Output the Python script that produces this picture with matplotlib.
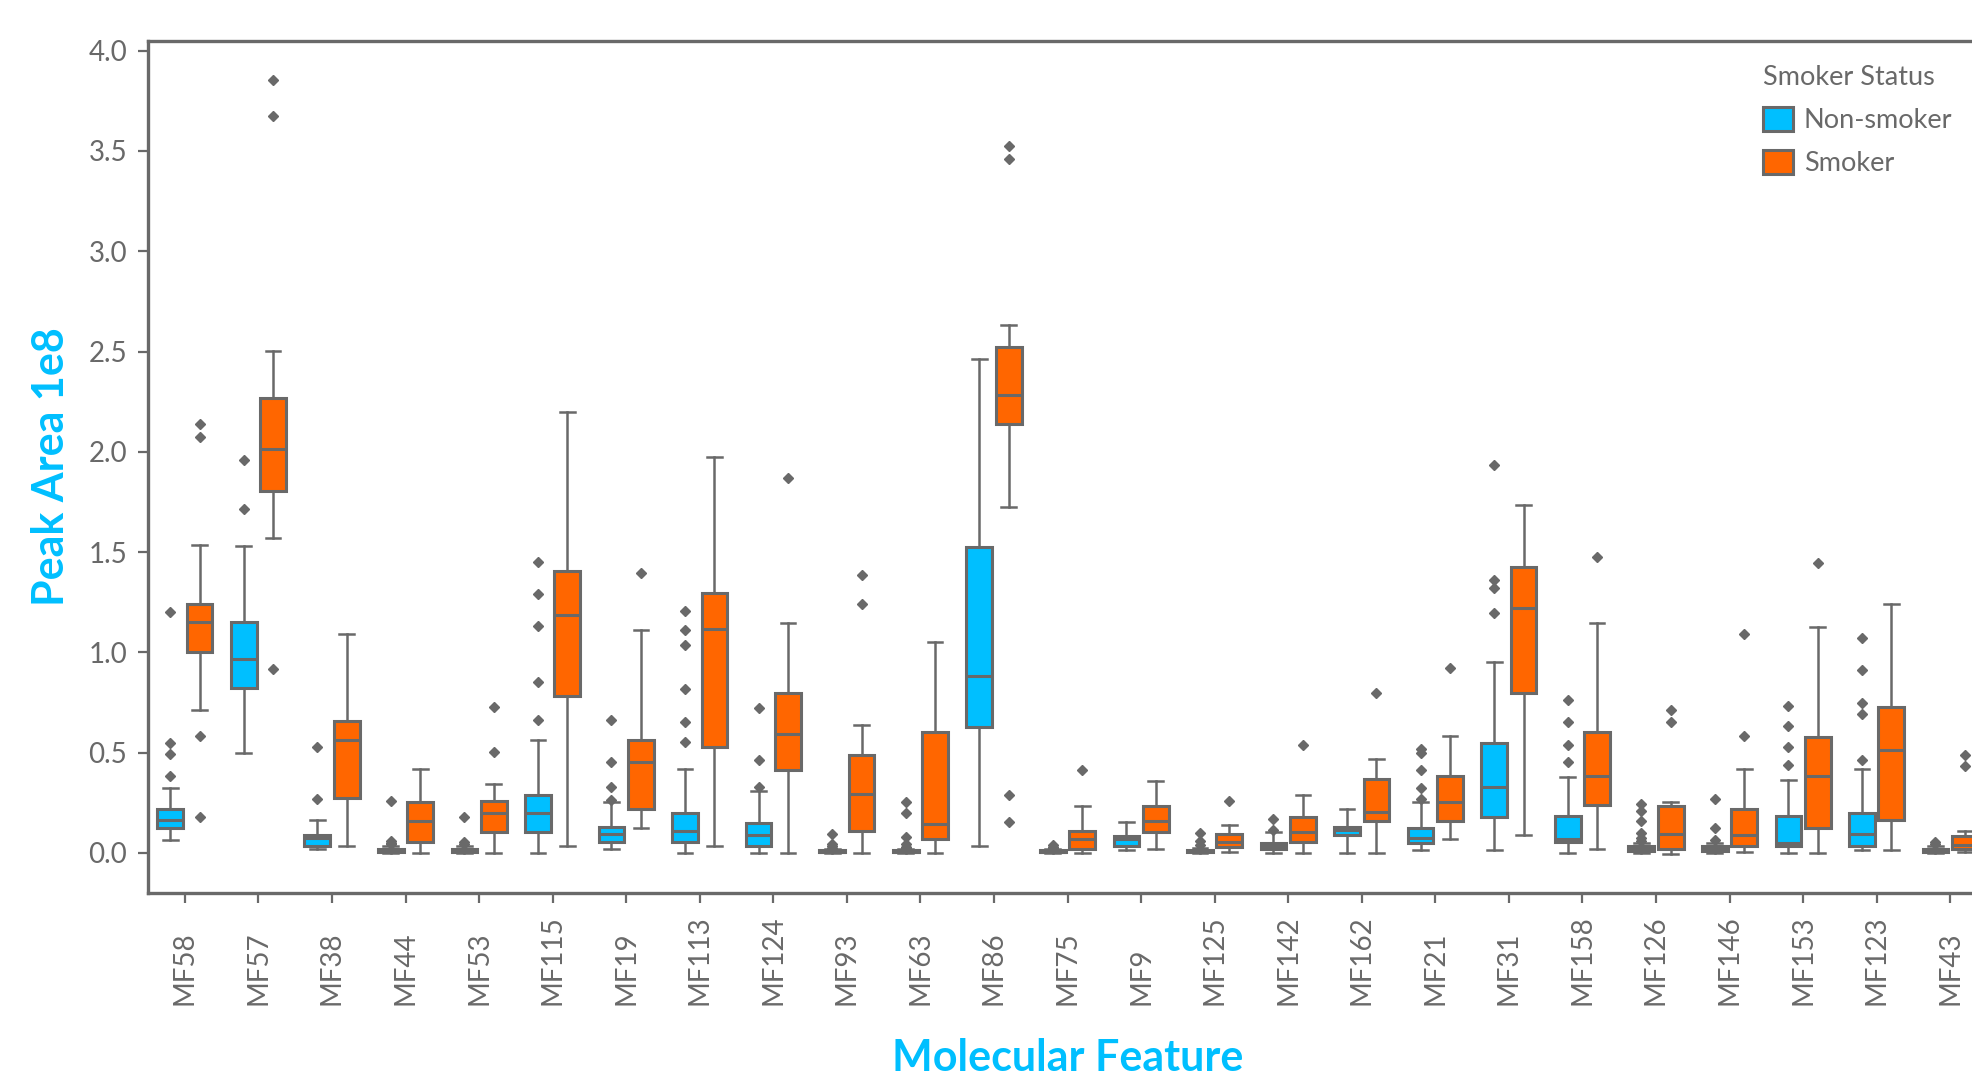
import numpy as np
import matplotlib
matplotlib.use("Agg")
import matplotlib.pyplot as plt
from matplotlib.patches import Patch

plt.rcParams['font.family'] = ['Lato', 'DejaVu Sans']

features = ['MF58', 'MF57', 'MF38', 'MF44', 'MF53', 'MF115', 'MF19', 'MF113',
            'MF124', 'MF93', 'MF63', 'MF86', 'MF75', 'MF9', 'MF125', 'MF142',
            'MF162', 'MF21', 'MF31', 'MF158', 'MF126', 'MF146', 'MF153',
            'MF123', 'MF43']

# Non-smoker box stats (peak area, 1e8)
ns_low = [0.066, 0.497, 0.017, 0.0, 0.0, 0.0, 0.017, 0.0, 0.0, 0.0, 0.0, 0.035, 0.0,
          0.012, 0.0, 0.0, 0.0, 0.015, 0.015, 0.0, 0.0, 0.0, 0.0, 0.015, 0.0]
ns_q1 = [0.126, 0.821, 0.035, 0.002, 0.003, 0.105, 0.056, 0.055, 0.035, 0.002, 0.002, 0.628, 0.002,
         0.032, 0.003, 0.017, 0.088, 0.050, 0.181, 0.053, 0.007, 0.007, 0.033, 0.033, 0.002]
ns_med = [0.163, 0.967, 0.076, 0.008, 0.010, 0.201, 0.093, 0.110, 0.091, 0.006, 0.006, 0.882, 0.006,
          0.070, 0.008, 0.035, 0.115, 0.076, 0.326, 0.070, 0.018, 0.018, 0.048, 0.095, 0.010]
ns_q3 = [0.218, 1.150, 0.091, 0.018, 0.020, 0.289, 0.130, 0.201, 0.150, 0.012, 0.012, 1.527, 0.012,
         0.085, 0.015, 0.051, 0.130, 0.126, 0.547, 0.184, 0.032, 0.032, 0.184, 0.201, 0.020]
ns_high = [0.324, 1.530, 0.163, 0.035, 0.035, 0.565, 0.256, 0.417, 0.309, 0.020, 0.020, 2.464, 0.018,
           0.153, 0.025, 0.106, 0.218, 0.252, 0.950, 0.379, 0.048, 0.048, 0.364, 0.417, 0.032]
ns_fliers = [[1.203, 0.547, 0.493, 0.384], [1.958, 1.714], [0.530, 0.271],
             [0.261, 0.060, 0.050, 0.045], [0.178, 0.056, 0.045],
             [1.449, 1.289, 1.131, 0.854, 0.664], [0.664, 0.455, 0.326, 0.264],
             [1.206, 1.110, 1.035, 0.819, 0.653, 0.553], [0.721, 0.462, 0.327],
             [0.093, 0.045, 0.032, 0.025], [0.256, 0.201, 0.081, 0.045, 0.030, 0.025],
             [], [0.040, 0.030, 0.024], [], [0.098, 0.058, 0.037], [0.168, 0.115],
             [], [0.517, 0.500, 0.414, 0.322, 0.267], [1.932, 1.362, 1.319, 1.196],
             [0.761, 0.654, 0.540, 0.452], [0.244, 0.211, 0.159, 0.098, 0.076, 0.060],
             [0.267, 0.123, 0.065], [0.731, 0.633, 0.530, 0.437],
             [1.073, 0.910, 0.748, 0.694, 0.463], [0.055, 0.045]]

# Smoker box stats
s_low = [0.711, 1.568, 0.035, 0.0, 0.0, 0.035, 0.126, 0.032, 0.0, 0.0, 0.0, 1.723, 0.0,
         0.018, 0.002, 0.0, 0.0, 0.071, 0.090, 0.017, -0.008, 0.003, 0.0, 0.015, 0.002]
s_q1 = [1.003, 1.806, 0.274, 0.053, 0.105, 0.781, 0.218, 0.528, 0.415, 0.111, 0.071, 2.140, 0.017,
        0.105, 0.027, 0.053, 0.161, 0.161, 0.799, 0.238, 0.017, 0.035, 0.125, 0.163, 0.018]
s_med = [1.150, 2.013, 0.565, 0.161, 0.201, 1.188, 0.455, 1.116, 0.593, 0.292, 0.143, 2.283, 0.071,
         0.161, 0.055, 0.106, 0.203, 0.252, 1.221, 0.382, 0.095, 0.090, 0.382, 0.512, 0.037]
s_q3 = [1.241, 2.266, 0.656, 0.254, 0.259, 1.407, 0.565, 1.297, 0.799, 0.490, 0.605, 2.522, 0.111,
        0.234, 0.095, 0.181, 0.367, 0.382, 1.425, 0.601, 0.234, 0.218, 0.580, 0.728, 0.086]
s_high = [1.535, 2.502, 1.093, 0.419, 0.342, 2.196, 1.111, 1.972, 1.146, 0.640, 1.050, 2.632, 0.233,
          0.359, 0.141, 0.287, 0.470, 0.581, 1.734, 1.148, 0.252, 0.419, 1.128, 1.239, 0.110]
s_fliers = [[2.137, 2.073, 0.585, 0.178], [3.854, 3.676, 0.917], [], [], [0.728, 0.502],
            [], [1.397], [], [1.867], [1.384, 1.243], [], [3.526, 3.458, 0.291, 0.153],
            [0.414], [], [0.261], [0.538], [0.799], [0.922], [], [1.475], [0.713, 0.654],
            [1.091, 0.583], [1.447], [], [0.487, 0.434]]

blue = '#00BFFF'
orange = '#FF6600'
gray = '#696969'


def box_stats(low, q1, med, q3, high, fliers):
    return [dict(whislo=a, q1=b, med=c, q3=d, whishi=e, fliers=f)
            for a, b, c, d, e, f in zip(low, q1, med, q3, high, fliers)]


fig = plt.figure(figsize=(19.72, 10.79), dpi=100)
ax = fig.add_axes([0.0751, 0.1724, 0.9325, 0.7899])

x = np.arange(len(features))
groups = [(-0.2, blue, box_stats(ns_low, ns_q1, ns_med, ns_q3, ns_high, ns_fliers)),
          (0.2, orange, box_stats(s_low, s_q1, s_med, s_q3, s_high, s_fliers))]
for off, color, st in groups:
    ax.bxp(st, positions=x + off, widths=0.35, capwidths=0.2, patch_artist=True,
           manage_ticks=False,
           boxprops=dict(facecolor=color, edgecolor=gray, linewidth=2.2),
           medianprops=dict(color=gray, linewidth=2.2),
           whiskerprops=dict(color=gray, linewidth=1.8),
           capprops=dict(color=gray, linewidth=1.8),
           flierprops=dict(marker='D', markersize=5.5, markerfacecolor=gray,
                           markeredgecolor=gray, linestyle='none'))

ax.set_xlim(-0.5, len(features) - 0.5)
ax.set_ylim(-0.2, 4.05)
ax.set_yticks(np.arange(0, 4.01, 0.5))

for s in ax.spines.values():
    s.set_color(gray)
    s.set_linewidth(2.4)

ax.set_xticks(x, features, rotation=90)
ax.tick_params(axis='x', colors=gray, labelsize=20, length=7, width=1.6, pad=74)
ax.tick_params(axis='y', colors=gray, labelsize=20, length=7, width=1.6, pad=8)
for lbl in ax.get_xticklabels():
    lbl.set_va('bottom')

ax.set_xlabel('Molecular Feature', fontsize=31, color=blue, fontweight='bold')
ax.set_ylabel('Peak Area 1e8', fontsize=31, color=blue, fontweight='bold')
ax.xaxis.set_label_coords(0.5, -0.170)
ax.yaxis.set_label_coords(-0.042, 0.5)

handles = [Patch(facecolor=blue, edgecolor=gray, linewidth=2.2, label='Non-smoker'),
           Patch(facecolor=orange, edgecolor=gray, linewidth=2.2, label='Smoker')]
leg = ax.legend(handles=handles, title='Smoker Status', loc='upper right',
                bbox_to_anchor=(0.9945, 1.0),
                frameon=False, fontsize=19.5, title_fontsize=19.5, alignment='left',
                handlelength=1.1, handleheight=1.0, handletextpad=0.4,
                labelspacing=0.62, borderaxespad=0.5)
leg.get_title().set_color(gray)
for t in leg.get_texts():
    t.set_color(gray)

fig.savefig('out.png', dpi=100)
